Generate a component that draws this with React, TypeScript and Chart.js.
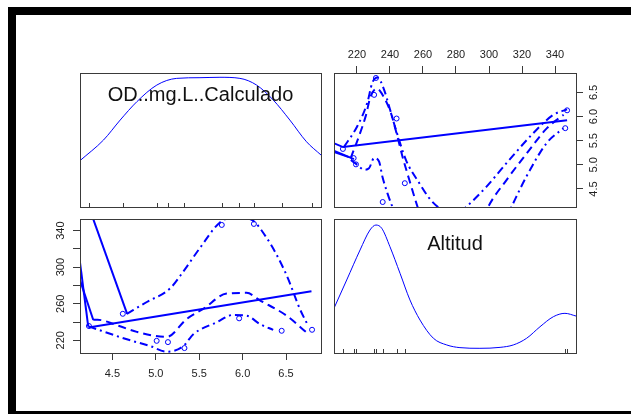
import React, { useEffect, useRef } from "react";
import { Chart, registerables } from "chart.js";
Chart.register(...registerables);

// ---------- data ----------
const odValues = [5.33, 5.14, 5.01, 6.8, 6.45, 4.23, 5.96, 4.62, 6.13, 5.76];
const altValues = [211.5, 218, 219.4, 231.5, 230.4, 235.6, 244, 249, 347.3, 346.2];

const odRange = [4.127, 6.903];
const altRange = [206.1, 352.7];

const odTicks = [4.5, 5.0, 5.5, 6.0, 6.5];
const altTicks = [220, 240, 260, 280, 300, 320, 340];
const altLeftLabels = [220, 260, 300, 340];

const odLabel = "OD..mg.L..Calculado";
const altLabel = "Altitud";

// density curves (relative height 0..1)
const odDensX = [4.127, 4.398, 4.59, 4.782, 5.012, 5.241, 5.509, 5.739, 5.969, 6.161, 6.352, 6.544, 6.736, 6.903];
const odDensY = [0.346, 0.5, 0.649, 0.786, 0.91, 0.96, 0.965, 0.968, 0.96, 0.91, 0.799, 0.649, 0.487, 0.388];
const altDensX = [206.1, 213.8, 221.9, 227.9, 231.5, 235.0, 240.0, 246.1, 252.1, 258.2, 266.3, 274.4, 282.4, 294.5, 306.7, 314.7, 322.8, 330.9, 339.0, 346.0, 352.7];
const altDensY = [0.334, 0.545, 0.769, 0.918, 0.955, 0.931, 0.793, 0.595, 0.396, 0.246, 0.11, 0.06, 0.04, 0.035, 0.042, 0.06, 0.11, 0.196, 0.271, 0.296, 0.276];

// top-right panel: x = Altitud, y = OD
const trFit = [[204.9, 5.465], [211.6, 5.369], [347.3, 5.923]];
const trBundleA = [[204.9, 5.31], [218.2, 5.12]];
const trBundleB = [[204.9, 5.28], [215.1, 5.16]];
const trSmooth = [[216.2, 5.14], [221.2, 5.59], [225.3, 6.01], [228.3, 6.42], [232, 6.58], [236, 6.42], [240.5, 6.08], [244.5, 5.59], [247.6, 5.17], [251.7, 4.69], [256.7, 4.13], [262, 3.6], [279, 3.2], [293, 3.6], [299.5, 4.13], [310.7, 4.69], [322.9, 5.24], [335.1, 5.76], [345.2, 6.04]];
const trUpper = [[212.1, 5.37], [220.2, 5.8], [226.3, 6.29], [229.3, 6.7], [232.4, 6.81], [236.4, 6.56], [239.5, 6.21], [243.6, 5.73], [249.7, 5.1], [257.8, 4.62], [263.8, 4.31], [268.9, 4.13], [278, 3.9], [286.3, 4.13], [298.5, 4.55], [310.7, 5.04], [326.9, 5.66], [339.1, 6.04], [347.3, 6.15]];
const trLower = [[216.3, 5.1], [220.2, 5.0], [224.3, 4.9], [227.3, 4.93], [230.4, 5.14], [233.4, 5.07], [235.4, 4.76], [238.5, 4.41], [241.5, 4.13], [250, 3.5], [280, 2.6], [305, 3.5], [314.6, 4.2], [322.7, 4.76], [334.9, 5.45], [345.0, 5.76]];

// bottom-left panel: x = OD, y = Altitud
const blFit = [[4.225, 234.1], [6.793, 273.7]];
const blLineA = [[4.25, 360.4], [4.67, 248.9]];
const blLineB = [[4.1, 324.8], [4.222, 234.9]];
const blLineC = [[4.1, 293.6], [4.28, 242.2]];
const blSmooth = [[4.28, 242.4], [4.33, 242.4], [4.57, 235.9], [4.782, 229.2], [5.127, 223.7], [5.356, 243.3], [5.547, 254.4], [5.816, 271.1], [6.046, 271.9], [6.199, 263.7], [6.506, 247], [6.736, 228.6]];
const blUpper = [[4.667, 248.9], [4.897, 261.9], [5.164, 276.7], [5.317, 295.2], [5.509, 321.1], [5.739, 348.9], [5.892, 354.4], [6.084, 352.6], [6.276, 332.2], [6.506, 291.4], [6.659, 254.4], [6.755, 235.9]];
const blLower = [[4.225, 235.2], [4.667, 221.1], [4.935, 213.7], [5.127, 207.5], [5.317, 213.7], [5.433, 226.7], [5.701, 239.7], [5.892, 247.8], [6.046, 247.0], [6.199, 237.8], [6.352, 231.4]];

// ---------- styling ----------
const FONT = "'Liberation Sans', Arial, Helvetica, sans-serif";
const BLUE = "#0000ff";
const GRID = "#3a3a3a";
const TEXT = "#222222";
const DASH = [8, 5];
const DASHDOT = [8, 4, 2, 4];

const toXY = (p: number[][]) => p.map(([x, y]) => ({ x, y }));
const zipXY = (xs: number[], ys: number[]) => xs.map((x, i) => ({ x, y: ys[i] }));

const fixSize = (size: number) => (scale: any) => {
  if (scale.isHorizontal()) scale.height = size;
  else scale.width = size;
  scale.paddingTop = 0;
  scale.paddingBottom = 0;
  scale.paddingLeft = 0;
  scale.paddingRight = 0;
};

function axis(position: string, range: number[], ticks: number[], size: number, pad: number, labelFn: (v: number) => string) {
  const vertical = position === "left" || position === "right";
  return {
    type: "linear",
    position,
    min: range[0],
    max: range[1],
    afterFit: fixSize(size),
    afterBuildTicks: (s: any) => {
      s.ticks = ticks.map((v) => ({ value: v }));
    },
    grid: { display: true, drawOnChartArea: false, drawTicks: true, tickLength: 7, color: GRID, lineWidth: 1 },
    border: { display: false },
    ticks: {
      color: TEXT,
      font: { family: FONT, size: 11 },
      padding: pad,
      autoSkip: false,
      minRotation: vertical ? 90 : 0,
      maxRotation: vertical ? 90 : 0,
      crossAlign: vertical ? "center" : "near",
      callback: (v: any) => labelFn(Number(v)),
    },
  };
}

const hiddenAxis = (range: number[]) => ({
  type: "linear",
  display: false,
  min: range[0],
  max: range[1],
  afterFit: fixSize(0),
});

const framePlugin = {
  id: "frame",
  afterDraw(chart: any) {
    const { ctx, chartArea: a } = chart;
    ctx.save();
    ctx.strokeStyle = GRID;
    ctx.lineWidth = 1;
    ctx.strokeRect(Math.round(a.left) + 0.5, Math.round(a.top) + 0.5, Math.round(a.right - a.left), Math.round(a.bottom - a.top));
    ctx.restore();
  },
};

const rugPlugin = (values: number[]) => ({
  id: "rug",
  afterDatasetsDraw(chart: any) {
    const { ctx, chartArea: a } = chart;
    const xs = chart.scales.x;
    ctx.save();
    ctx.strokeStyle = GRID;
    ctx.lineWidth = 1;
    ctx.beginPath();
    values.forEach((v) => {
      const px = Math.round(xs.getPixelForValue(v)) + 0.5;
      ctx.moveTo(px, a.bottom);
      ctx.lineTo(px, a.bottom - 4);
    });
    ctx.stroke();
    ctx.restore();
  },
});

const labelPlugin = (text: string, dy: number) => ({
  id: "diagLabel",
  afterDatasetsDraw(chart: any) {
    const { ctx, chartArea: a } = chart;
    ctx.save();
    ctx.fillStyle = "#111111";
    ctx.font = `20px ${FONT}`;
    ctx.textAlign = "center";
    ctx.textBaseline = "middle";
    ctx.fillText(text, (a.left + a.right) / 2, a.top + dy);
    ctx.restore();
  },
});

const lineDs = (data: any[], dash: number[], width: number, smooth: boolean) => ({
  data,
  showLine: true,
  borderColor: BLUE,
  borderWidth: width,
  borderDash: dash,
  pointRadius: 0,
  fill: false,
  tension: 0,
  cubicInterpolationMode: smooth ? "monotone" : "default",
  clip: 0,
});

const pointDs = (data: any[]) => ({
  data,
  showLine: false,
  pointRadius: 2.5,
  pointBorderWidth: 1,
  pointBorderColor: BLUE,
  pointBackgroundColor: "rgba(0,0,0,0)",
  clip: 0,
});

const baseOptions = (padding: any, scales: any) => ({
  animation: false,
  responsive: false,
  maintainAspectRatio: false,
  devicePixelRatio: 1,
  events: [],
  layout: { padding, autoPadding: false },
  plugins: { legend: { display: false }, tooltip: { enabled: false }, title: { display: false } },
  scales,
});

const configTL = {
  type: "scatter",
  data: { datasets: [lineDs(zipXY(odDensX, odDensY), [], 1, true)] },
  options: baseOptions({ left: 2, right: 2, top: 2, bottom: 2 }, { x: hiddenAxis(odRange), y: hiddenAxis([0, 1]) }),
  plugins: [framePlugin, rugPlugin(odValues), labelPlugin(odLabel, 22.8)],
};

const configBR = {
  type: "scatter",
  data: { datasets: [lineDs(zipXY(altDensX, altDensY), [], 1, true)] },
  options: baseOptions({ left: 2, right: 2, top: 2, bottom: 2 }, { x: hiddenAxis(altRange), y: hiddenAxis([0, 1]) }),
  plugins: [framePlugin, rugPlugin(altValues), labelPlugin(altLabel, 25.2)],
};

const configTR = {
  type: "scatter",
  data: {
    datasets: [
      pointDs(zipXY(altValues, odValues)),
      lineDs(toXY(trFit), [], 2, false),
      lineDs(toXY(trBundleA), [], 2, false),
      lineDs(toXY(trBundleB), [], 2, false),
      lineDs(toXY(trSmooth), DASH, 2, true),
      lineDs(toXY(trUpper), DASHDOT, 2, true),
      lineDs(toXY(trLower), DASHDOT, 2, true),
    ],
  },
  options: baseOptions(
    { left: 2, right: 0, top: 0, bottom: 2 },
    {
      x: axis("top", altRange, altTicks, 33, 4, (v) => String(v)),
      y: axis("right", odRange, odTicks, 39, 3, (v) => v.toFixed(1)),
    }
  ),
  plugins: [framePlugin],
};

const configBL = {
  type: "scatter",
  data: {
    datasets: [
      pointDs(zipXY(odValues, altValues)),
      lineDs(toXY(blFit), [], 2, false),
      lineDs(toXY(blLineA), [], 2, false),
      lineDs(toXY(blLineB), [], 2, false),
      lineDs(toXY(blLineC), [], 2, false),
      lineDs(toXY(blSmooth), DASH, 2, true),
      lineDs(toXY(blUpper), DASHDOT, 2, true),
      lineDs(toXY(blLower), DASHDOT, 2, true),
    ],
  },
  options: baseOptions(
    { left: 0, right: 2, top: 2, bottom: 0 },
    {
      x: axis("bottom", odRange, odTicks, 42, 7, (v) => v.toFixed(1)),
      y: axis("left", altRange, altTicks, 40, 3, (v) => (altLeftLabels.includes(v) ? String(v) : "")),
    }
  ),
  plugins: [framePlugin],
};

function ChartBox({ left, top, width, height, config }: { left: number; top: number; width: number; height: number; config: any }) {
  const ref = useRef<HTMLCanvasElement>(null);
  useEffect(() => {
    const chart = new Chart(ref.current as HTMLCanvasElement, config);
    return () => chart.destroy();
  }, [config]);
  return (
    <canvas
      ref={ref}
      width={width}
      height={height}
      style={{ position: "absolute", left, top, width, height, display: "block" }}
    />
  );
}

export default function App() {
  return (
    <div style={{ position: "fixed", left: 0, top: 0, width: 631, height: 414, overflow: "hidden", background: "#ffffff" }}>
      <div
        style={{
          position: "absolute",
          left: 8,
          top: 7,
          width: 700,
          height: 412,
          border: "8px solid #000",
          boxSizing: "border-box",
        }}
      />
      <ChartBox left={78} top={71} width={245} height={138} config={configTL} />
      <ChartBox left={332} top={40} width={283} height={169} config={configTR} />
      <ChartBox left={40} top={217} width={283} height={178} config={configBL} />
      <ChartBox left={332} top={217} width={246} height={138} config={configBR} />
    </div>
  );
}
